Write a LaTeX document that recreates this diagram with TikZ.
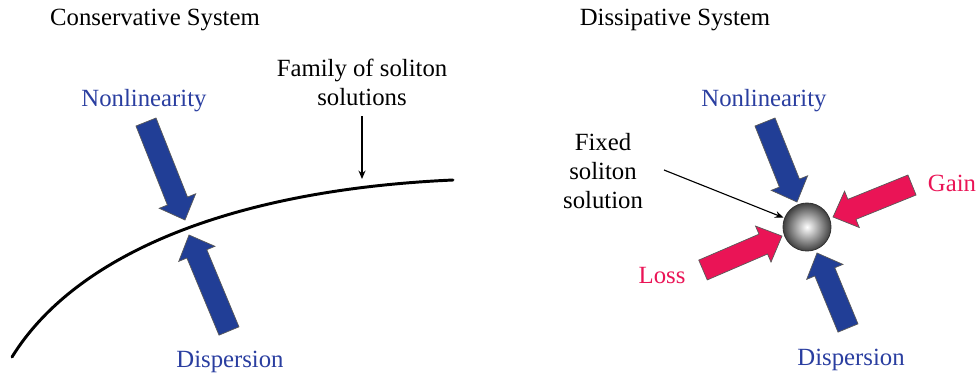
\documentclass[tikz,border=0pt]{standalone}
\usepackage{fontspec}
\newfontfamily\timesf{Liberation Serif}
\usetikzlibrary{calc,arrows.meta}

\definecolor{nlblue}{RGB}{33,62,150}
\definecolor{lossred}{RGB}{234,20,86}
\definecolor{txtblue}{RGB}{42,62,160}

% fat arrow: tail, tip, colour
\newcommand{\fatarrow}[3]{%
  \coordinate (fb) at ($(#2)!0.51cm!(#1)$);
  \filldraw[fat,fill=#3]
    ($(#1)!0.27cm!90:(#2)$) -- ($(fb)!0.27cm!-90:(#1)$) -- ($(fb)!0.49cm!-90:(#1)$)
    -- (#2) -- ($(fb)!0.49cm!90:(#1)$) -- ($(fb)!0.27cm!90:(#1)$)
    -- ($(#1)!0.27cm!-90:(#2)$) -- cycle;}

\begin{document}
\begin{tikzpicture}[x=0.025cm,y=-0.025cm,
  lbl/.style={font=\timesf\fontsize{17.6}{20.6}\selectfont,align=center,inner sep=0pt},
  fat/.style={draw=black!65,line width=0.5pt,line join=miter}]

\useasboundingbox (0,0) rectangle (978,377);

%titles
\node[lbl] (cons) at (155,20) {Conservative System};
\node[lbl] (diss) at (675,20) {Dissipative System};

% Conservative system
\draw[line width=2.1pt,line cap=round] (12,357) .. controls (75,255) and (230,190) .. (453,180);

\node[lbl] (family) at (362,82) {Family of soliton\\solutions};
\coordinate (famtip) at (362,179);
\draw[-{Stealth[length=6pt,width=5pt]},line width=0.8pt] (362,116) -- (famtip);

\node[lbl,text=txtblue] (nonl) at (144,101) {Nonlinearity};
\node[lbl,text=txtblue] (disp) at (230,362) {Dispersion};

\coordinate (nlt) at (146,122);  \coordinate (nlp) at (185,220);
\coordinate (dpt) at (229,331);  \coordinate (dpp) at (189,235);
\fatarrow{nlt}{nlp}{nlblue}
\fatarrow{dpt}{dpp}{nlblue}

% Dissipative system
\node[circle,minimum size=1.2cm,inner sep=0pt,outer sep=1pt,
  draw=black!80,line width=0.6pt,inner color=white,outer color=black!75] (ball) at (807,227) {};

\node[lbl] (fixed) at (603,171) {Fixed\\soliton\\solution};
\coordinate (fixstart) at (664,170);
\draw[-{Stealth[length=6pt,width=5pt]},line width=0.8pt] (fixstart) -- (ball);

\node[lbl,text=txtblue] (nonr) at (764,101) {Nonlinearity};
\node[lbl,text=txtblue] (dispr) at (851,360) {Dispersion};
\node[lbl,text=lossred] (gain) at (952,183) {Gain};
\node[lbl,text=lossred] (loss) at (662,276) {Loss};

\coordinate (t1) at (765,122);  \coordinate (p1) at (797,202);
\coordinate (t2) at (848,328);  \coordinate (p2) at (817,253);
\coordinate (t3) at (912,185);  \coordinate (p3) at (833,217);
\coordinate (t4) at (703,270);  \coordinate (p4) at (782,236);
\fatarrow{t1}{p1}{nlblue}
\fatarrow{t2}{p2}{nlblue}
\fatarrow{t3}{p3}{lossred}
\fatarrow{t4}{p4}{lossred}

\end{tikzpicture}
\end{document}
